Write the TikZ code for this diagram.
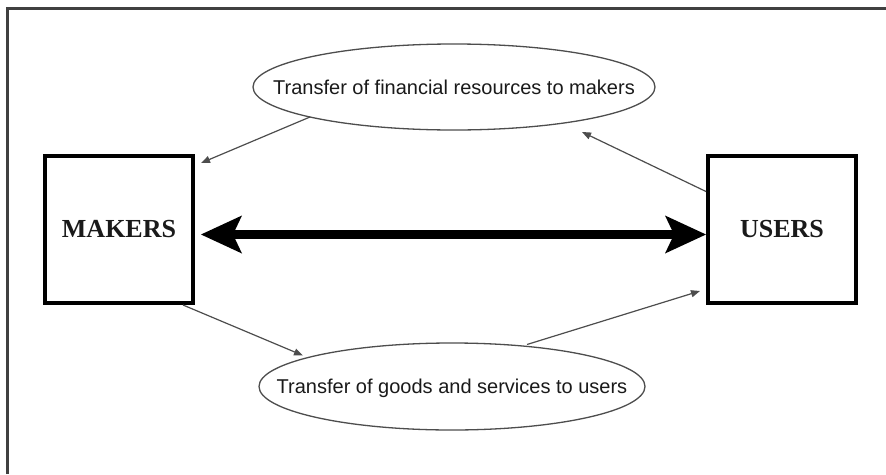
\documentclass[tikz,border=0pt]{standalone}
\usepackage{fontspec}
\setmainfont{Liberation Serif}
\newfontfamily\labelfont{Liberation Sans}
\usetikzlibrary{arrows.meta,shapes.geometric}
\definecolor{frame}{HTML}{404040}
\definecolor{flow}{HTML}{4D4D4D}
\definecolor{ink}{HTML}{1A1A1A}
\begin{document}
\begin{tikzpicture}[x=1pt,y=-1pt,
  party/.style={draw=black, line width=4pt, minimum width=148pt, minimum height=147pt,
    inner sep=0pt, outer sep=0pt, font=\fontsize{26}{30}\selectfont\bfseries, text=ink},
  bubble/.style={ellipse, draw=flow, line width=1.3pt, minimum width=402pt,
    minimum height=86pt, inner sep=0pt, outer sep=0pt},
  caption/.style={font=\labelfont\fontsize{20}{24}\selectfont, text=ink,
    text depth=0pt, inner sep=0pt},
  flowarrow/.style={draw=flow, line width=1.2pt, -{Triangle[length=9pt,width=7pt]}},
  bigarrow/.style={draw=black, line width=9pt,
    {Stealth[length=41pt,width=38pt,inset=9pt,line width=0pt]}-{Stealth[length=41pt,width=38pt,inset=9pt,line width=0pt]}}
]
\useasboundingbox (0,0) rectangle (886,474);
\fill[white] (0,0) rectangle (886,474);

% open frame along the left and top edges
\draw[frame, line width=3pt] (7.5,474) -- (7.5,8.5) -- (886,8.5);

% the two parties
\node[party] (makers) at (119,229.5) {MAKERS};
\node[party] (users) at (782,229.5) {USERS};

% the two transfers
\node[bubble, label={[caption]center:Transfer of financial resources to makers}]
  (fin) at (454,87) {};
\node[bubble, minimum width=386pt, minimum height=87pt,
  label={[caption]center:Transfer of goods and services to users}]
  (goods) at (452,386.5) {};

% exchange between makers and users
\draw[bigarrow] ([shift={(8,5)}]makers.east) -- ([shift={(-2,5)}]users.west);

% flows through the transfers
\draw[flowarrow] ([shift={(-144,30)}]fin.center) -- ([shift={(8,7)}]makers.north east);
\draw[flowarrow] ([shift={(-2,-38)}]users.west) -- ([shift={(128,45)}]fin.center);
\draw[flowarrow] ([shift={(-10,2)}]makers.south east) -- ([shift={(-149,-31)}]goods.center);
\draw[flowarrow] ([shift={(75,-42)}]goods.center) -- ([shift={(-8,-12)}]users.south west);
\end{tikzpicture}
\end{document}
